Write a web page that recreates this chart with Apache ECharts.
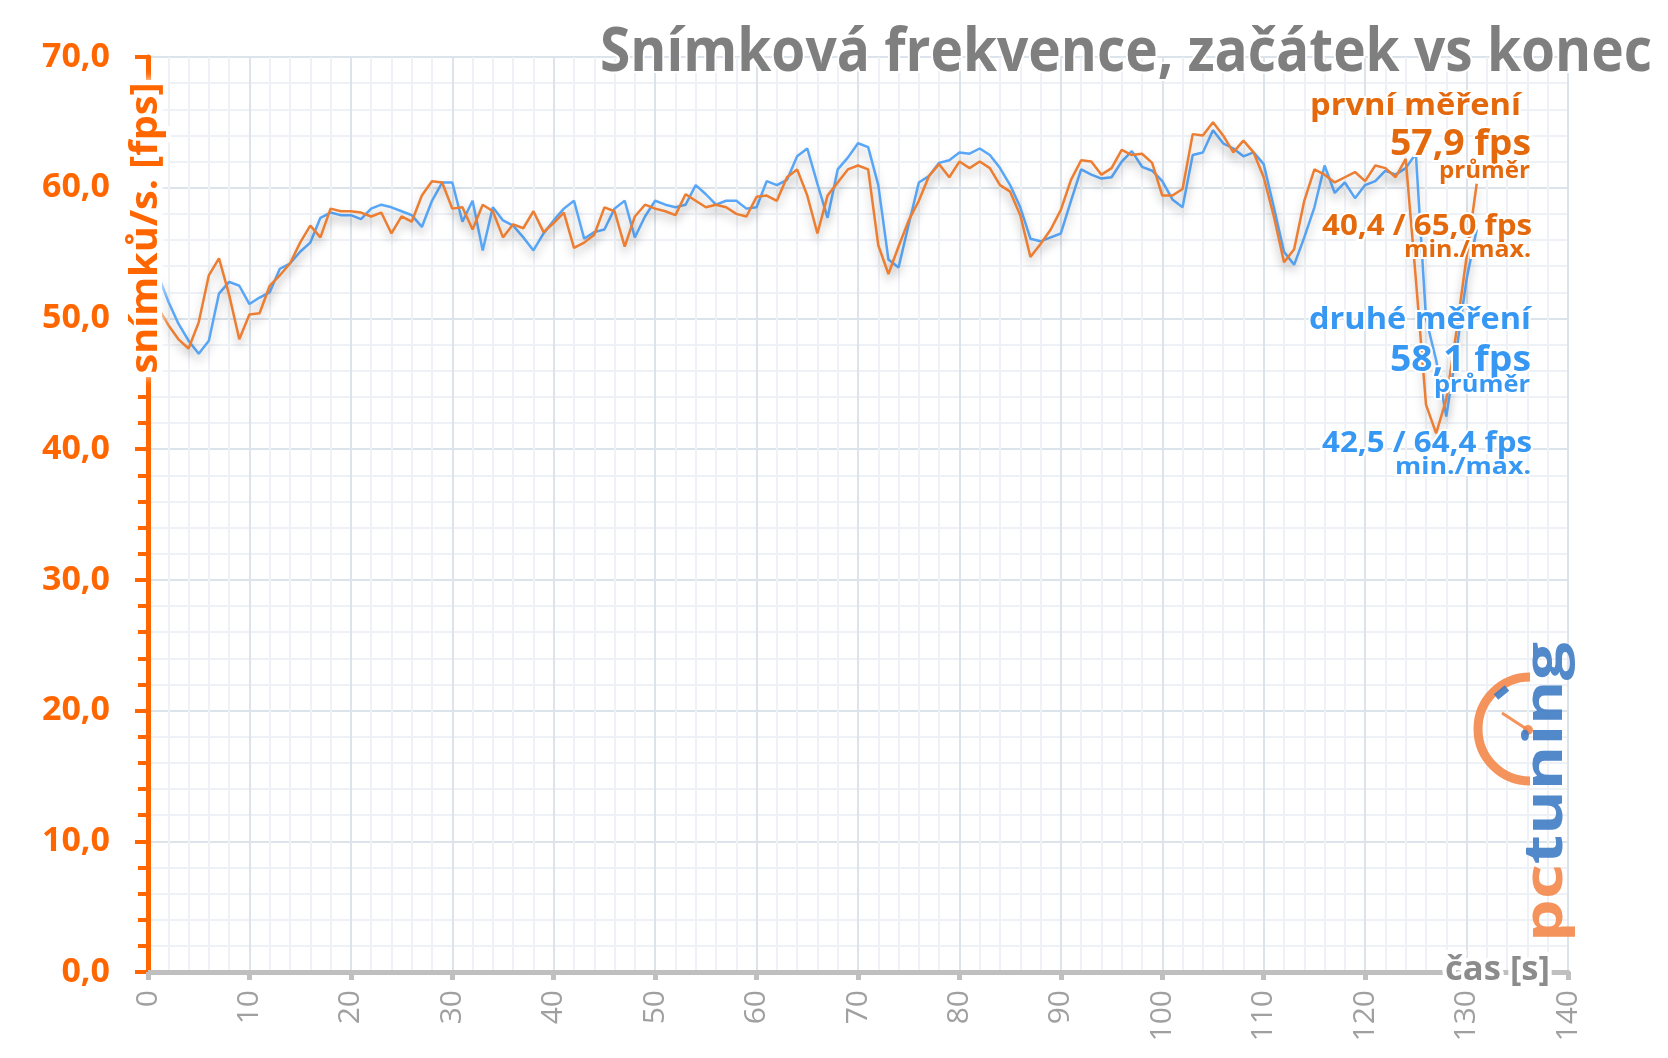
<!DOCTYPE html>
<html>
<head>
<meta charset="utf-8">
<script src="https://cdn.jsdelivr.net/npm/echarts@6/dist/echarts.min.js"></script>
<style>
html,body{margin:0;padding:0;background:#fff;}
#chart{width:1668px;height:1058px;}
</style>
</head>
<body>
<div id="chart"></div>
<script>
// ---- data ----
const seconds = [];
for (let s = 1; s <= 131; s++) seconds.push(s);

const firstRun = [
  50.8, 49.5, 48.4, 47.7, 49.7, 53.3, 54.6, 51.8, 48.4, 50.3,
  50.4, 52.5, 53.3, 54.2, 55.8, 57.1, 56.2, 58.4, 58.2, 58.2,
  58.1, 57.8, 58.1, 56.5, 57.8, 57.4, 59.4, 60.5, 60.4, 58.4,
  58.5, 56.8, 58.7, 58.2, 56.2, 57.2, 56.9, 58.2, 56.6, 57.3,
  58.1, 55.4, 55.8, 56.4, 58.5, 58.2, 55.5, 57.8, 58.7, 58.4,
  58.2, 57.9, 59.5, 59.0, 58.5, 58.7, 58.5, 58.0, 57.8, 59.3,
  59.4, 59.0, 60.8, 61.4, 59.4, 56.5, 59.4, 60.4, 61.4, 61.7,
  61.4, 55.6, 53.4, 55.5, 57.5, 59.0, 60.9, 61.8, 60.8, 62.0,
  61.5, 62.0, 61.5, 60.2, 59.7, 57.9, 54.7, 55.7, 56.8, 58.3,
  60.6, 62.1, 62.0, 61.0, 61.5, 62.9, 62.5, 62.6, 61.9, 59.4,
  59.4, 59.9, 64.1, 64.0, 65.0, 64.0, 62.7, 63.6, 62.7, 60.8,
  57.8, 54.3, 55.3, 59.0, 61.4, 61.0, 60.4, 60.8, 61.2, 60.5,
  61.7, 61.5, 60.8, 62.2, 53.0, 43.4, 41.2, 43.8, 49.0, 54.7, 60.3
];

const secondRun = [
  53.3, 51.3, 49.6, 48.3, 47.3, 48.3, 51.9, 52.8, 52.5, 51.1,
  51.6, 52.0, 53.8, 54.2, 55.1, 55.8, 57.7, 58.1, 57.9, 57.9,
  57.6, 58.4, 58.7, 58.5, 58.2, 57.9, 57.0, 59.0, 60.4, 60.4,
  57.4, 59.0, 55.2, 58.5, 57.5, 57.1, 56.2, 55.2, 56.5, 57.5,
  58.4, 59.0, 56.1, 56.6, 56.8, 58.4, 59.0, 56.2, 57.8, 59.0,
  58.7, 58.5, 58.7, 60.2, 59.5, 58.7, 59.0, 59.0, 58.4, 58.5,
  60.5, 60.2, 60.6, 62.4, 63.0, 60.3, 57.7, 61.4, 62.3, 63.4,
  63.1, 60.2, 54.5, 53.9, 57.2, 60.4, 60.9, 61.9, 62.1, 62.7,
  62.6, 63.0, 62.5, 61.5, 60.2, 58.5, 56.1, 55.9, 56.2, 56.5,
  59.0, 61.4, 61.0, 60.7, 60.8, 62.0, 62.8, 61.6, 61.3, 60.5,
  59.1, 58.5, 62.5, 62.7, 64.4, 63.4, 63.0, 62.4, 62.7, 61.8,
  58.5, 55.1, 54.1, 56.2, 58.5, 61.7, 59.6, 60.4, 59.2, 60.2,
  60.5, 61.3, 61.0, 61.5, 62.6, 50.0, 46.8, 42.5, 47.5, 53.0, 56.8
];

const titleText = 'Snímková frekvence, začátek vs konec';
const yAxisName = 'snímků/s. [fps]';
const xAxisName = 'čas [s]';
const firstLabels = ['první měření', '57,9 fps', 'průměr', '40,4 / 65,0 fps', 'min./max.'];
const secondLabels = ['druhé měření', '58,1 fps', 'průměr', '42,5 / 64,4 fps', 'min./max.'];

// ---- helpers ----
const FONT = '"Open Sans", "Noto Sans", sans-serif';
const mctx = document.createElement('canvas').getContext('2d');
function fitScale(text, size, weight, target) {
  mctx.font = weight + ' ' + size + 'px ' + FONT;
  const w = mctx.measureText(text).width;
  return w > 0 ? target / w : 1;
}
function txt(text, x, y, size, color, width, extra) {
  const e = Object.assign({
    type: 'text', x: x, y: y, z: 100,
    scaleX: fitScale(text, size, 'bold', width),
    style: {
      text: text, fill: color,
      font: 'bold ' + size + 'px ' + FONT,
      align: 'right', verticalAlign: 'middle',
      textAlign: 'right', textVerticalAlign: 'middle',
      stroke: '#ffffff', lineWidth: 4
    }
  }, extra || {});
  return e;
}

const ORANGE_T = '#e4690c';
const BLUE_T = '#3798f4';

const chart = echarts.init(document.getElementById('chart'), null, {renderer: 'canvas'});

const graphics = [
  txt(titleText, 1652, 54, 60, '#7f7f7f', 1052, null),
  txt(firstLabels[0], 1521, 106, 30, ORANGE_T, 211),
  txt(firstLabels[1], 1531, 145, 36, ORANGE_T, 141),
  txt(firstLabels[2], 1530, 171, 23, ORANGE_T, 91),
  txt(firstLabels[3], 1532, 227, 28, ORANGE_T, 210),
  txt(firstLabels[4], 1531, 250, 24, ORANGE_T, 127),
  txt(secondLabels[0], 1531, 320, 30, BLUE_T, 222),
  txt(secondLabels[1], 1531, 361, 36, BLUE_T, 141),
  txt(secondLabels[2], 1530, 385, 23, BLUE_T, 96),
  txt(secondLabels[3], 1532, 444, 28, BLUE_T, 210),
  txt(secondLabels[4], 1531, 467, 24, BLUE_T, 136),
  // x axis name
  {
    type: 'text', x: 1550, y: 970, z: 100,
    scaleX: fitScale(xAxisName, 34, 'bold', 105),
    style: {
      text: xAxisName, fill: '#8c8c8c', font: 'bold 34px ' + FONT,
      align: 'right', verticalAlign: 'middle', textAlign: 'right', textVerticalAlign: 'middle',
      stroke: '#ffffff', lineWidth: 8
    }
  },
  // white backdrop behind the y axis name (hides the axis line there)
  {
    type: 'rect', z: 99,
    shape: {x: 128, y: 80, width: 34, height: 296, r: 6},
    style: {fill: '#ffffff', shadowColor: '#ffffff', shadowBlur: 10}
  },
  // y axis name (rotated)
  {
    type: 'text', x: 146, y: 228, z: 100, rotation: Math.PI / 2,
    scaleX: fitScale(yAxisName, 38, 'bold', 291),
    style: {
      text: yAxisName, fill: '#ff6600', font: 'bold 38px ' + FONT,
      align: 'center', verticalAlign: 'middle', textAlign: 'center', textVerticalAlign: 'middle',
      stroke: '#ffffff', lineWidth: 10
    }
  },
  // logo
  {
    type: 'group', z: 90,
    children: [
      { type: 'arc', z: 90, shape: {cx: 1530, cy: 729, r: 52, startAngle: Math.PI / 2, endAngle: Math.PI * 1.5, clockwise: true},
        style: {stroke: '#f4874b', lineWidth: 9, fill: null, opacity: 0.9} },
      { type: 'line', z: 91, shape: {x1: 1496, y1: 697, x2: 1507, y2: 688},
        style: {stroke: '#3f7cc5', lineWidth: 7, opacity: 0.9} },
      { type: 'line', z: 91, shape: {x1: 1502, y1: 713, x2: 1528, y2: 730},
        style: {stroke: '#f4874b', lineWidth: 3, opacity: 0.9} },
      { type: 'circle', z: 91, shape: {cx: 1528, cy: 730, r: 5},
        style: {fill: '#f4874b', opacity: 0.9} },
      {
        type: 'text', x: 1547, y: 792, z: 92, rotation: Math.PI / 2,
        scaleX: fitScale('pctuning', 54, 'bold', 300),
        style: {
          text: '{a|pc}{b|tuning}',
          align: 'center', verticalAlign: 'middle', textAlign: 'center', textVerticalAlign: 'middle',
          font: 'bold 54px ' + FONT,
          opacity: 0.9,
          rich: {
            a: {fill: '#f4874b', font: 'bold 54px ' + FONT},
            b: {fill: '#3f7cc5', font: 'bold 54px ' + FONT}
          }
        }
      }
    ]
  }
];

const option = {
  animation: false,
  backgroundColor: '#ffffff',
  grid: {left: 148, right: 100, top: 57, bottom: 86, containLabel: false},
  xAxis: {
    type: 'value', min: 0, max: 140, interval: 10,
    axisLine: {show: true, onZero: false, lineStyle: {color: '#bfbfbf', width: 5}},
    axisTick: {show: true, length: 8, lineStyle: {color: '#bfbfbf', width: 5}},
    axisLabel: {rotate: 90, color: '#a0a0a0', fontSize: 30, fontFamily: FONT, margin: 18},
    splitLine: {show: true, lineStyle: {color: '#dde3eb', width: 2}},
    minorTick: {show: false, splitNumber: 5},
    minorSplitLine: {show: true, lineStyle: {color: '#eef1f5', width: 2}}
  },
  yAxis: {
    type: 'value', min: 0, max: 70, interval: 10,
    axisLine: {show: true, lineStyle: {color: '#ff6600', width: 5}},
    axisTick: {show: true, length: 13, lineStyle: {color: '#ff6600', width: 4}},
    minorTick: {show: true, splitNumber: 5, length: 10, lineStyle: {color: '#ff6600', width: 4}},
    axisLabel: {
      color: '#ff6600', fontWeight: 'bold', fontSize: 34, fontFamily: FONT, margin: 38,
      formatter: function (v) { return v.toFixed(1).replace('.', ','); }
    },
    splitLine: {show: true, lineStyle: {color: '#dde3eb', width: 2}},
    minorSplitLine: {show: true, lineStyle: {color: '#eef1f5', width: 2}}
  },
  series: [
    {
      name: 'druhé měření', type: 'line', showSymbol: false, z: 3,
      data: seconds.map((s, i) => [s, secondRun[i]]),
      lineStyle: {color: '#58a6f7', width: 2.5, shadowColor: 'rgba(0,0,0,0.25)', shadowBlur: 10, shadowOffsetY: 6}
    },
    {
      name: 'první měření', type: 'line', showSymbol: false, z: 4,
      data: seconds.map((s, i) => [s, firstRun[i]]),
      lineStyle: {color: '#ed7d31', width: 2.5, shadowColor: 'rgba(0,0,0,0.25)', shadowBlur: 10, shadowOffsetY: 6}
    }
  ],
  graphic: graphics
};
chart.setOption(option);
</script>
</body>
</html>
